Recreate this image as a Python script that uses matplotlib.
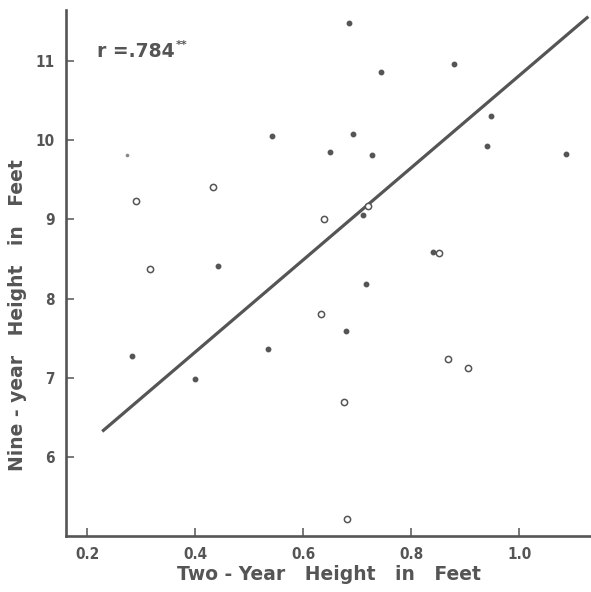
import numpy as np
import matplotlib.pyplot as plt

# Data
two_year_filled = [0.543, 0.443, 0.685, 0.744, 0.880, 0.947, 0.692, 0.650, 0.728,
                   0.941, 1.086, 0.711, 0.840, 0.716, 0.283, 0.400, 0.535, 0.679]
nine_year_filled = [10.05, 8.41, 11.48, 10.86, 10.97, 10.31, 10.08, 9.85, 9.82,
                    9.93, 9.83, 9.06, 8.59, 8.19, 7.27, 6.98, 7.36, 7.59]

# faint speck in the scan
two_year_faint = [0.273]
nine_year_faint = [9.82]

two_year_open = [0.291, 0.433, 0.317, 0.721, 0.638, 0.852, 0.633, 0.868, 0.905, 0.675, 0.681]
nine_year_open = [9.24, 9.41, 8.38, 9.17, 9.00, 8.58, 7.80, 7.24, 7.12, 6.69, 5.21]

# regression line as drawn
fit_x = [0.228, 1.128]
fit_slope = 5.83
fit_intercept = 4.99

x_ticks = [0.2, 0.4, 0.6, 0.8, 1.0]
y_ticks = [6, 7, 8, 9, 10, 11]

ink = '#555555'

fig = plt.figure(figsize=(5.91, 5.92), dpi=100)
ax = fig.add_axes([0.1117, 0.0951, 0.8883, 0.888])

fx = np.array(fit_x)
ax.plot(fx, fit_intercept + fit_slope * fx, color=ink, lw=2.3, solid_capstyle='butt')

ax.plot(two_year_filled, nine_year_filled, 'o', ms=3.2, color=ink, mec=ink)
ax.plot(two_year_faint, nine_year_faint, 'o', ms=1.6, color='#888888', mec='#888888')
ax.plot(two_year_open, nine_year_open, 'o', ms=4.5, mfc='white', mec=ink, mew=1.1)

ax.set_xlim(0.161, 1.133)
ax.set_ylim(5.0, 11.65)
ax.set_xticks(x_ticks)
ax.set_xticklabels(['%.1f' % v for v in x_ticks])
ax.set_yticks(y_ticks)

for s in ['top', 'right']:
    ax.spines[s].set_visible(False)
for s in ['left', 'bottom']:
    ax.spines[s].set_color(ink)
    ax.spines[s].set_linewidth(1.9)

ax.tick_params(direction='in', length=6, width=1.1, color=ink, labelcolor=ink, pad=8)
for lab in ax.get_xticklabels() + ax.get_yticklabels():
    lab.set_family('DejaVu Sans')
    lab.set_stretch('condensed')
    lab.set_fontweight('bold')
    lab.set_fontsize(11)

ax.set_xlabel('Two - Year   Height   in   Feet', fontsize=13.5, fontweight='bold',
              color=ink, labelpad=2)
ax.set_ylabel('Nine - year   Height   in   Feet', fontsize=13.5, fontweight='bold',
              color=ink)
ax.yaxis.set_label_coords(-0.075, 0.42)

ax.text(0.218, 11.05, 'r =.784', fontsize=13.5, fontweight='bold', color=ink)
ax.text(0.364, 11.17, '**', fontsize=8, fontweight='bold', color=ink)

fig.savefig('out.png', dpi=100)
